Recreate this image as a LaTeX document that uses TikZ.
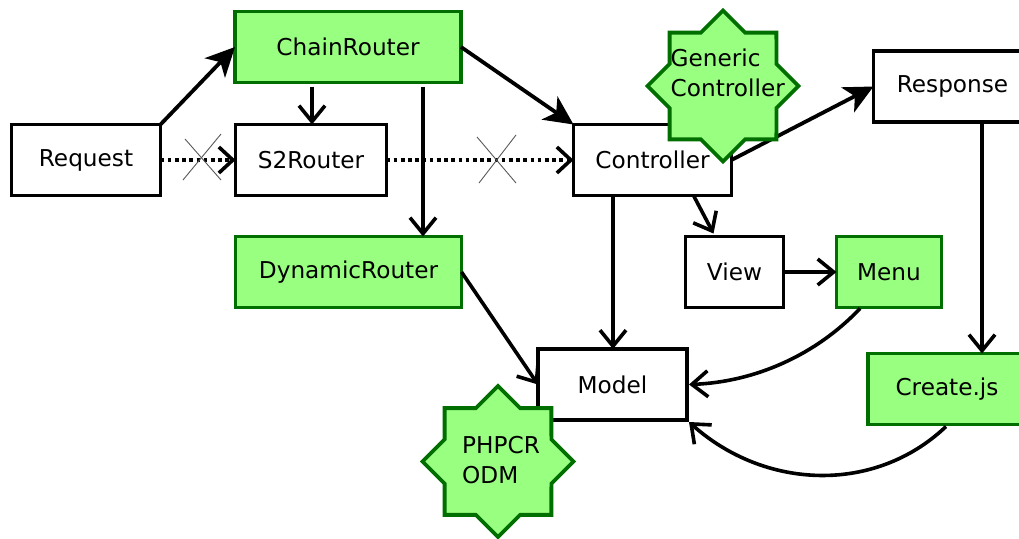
\documentclass[tikz,border=0pt]{standalone}
\usepackage{fontspec}
\setmainfont{DejaVu Sans}
\usetikzlibrary{arrows.meta,shapes.geometric}
\definecolor{gfill}{HTML}{99FF80}
\definecolor{gline}{HTML}{006F00}
\tikzset{
  x=1pt,y=-1pt,
  box/.style={draw=black,fill=white,line width=3.8pt,minimum height=71pt,inner sep=0pt,outer sep=0pt,font=\fontsize{23.2}{28}\selectfont,text=black},
  gbox/.style={box,draw=gline,fill=gfill},
  starbox/.style={star,star points=8,star point ratio=1.3066,draw=gline,fill=gfill,line width=3.8pt,minimum size=151pt,inner sep=0pt,outer sep=0pt},
  startext/.style={anchor=west,align=left,inner sep=0pt,font=\fontsize{23.2}{29.5}\selectfont},
  solidhead/.style={line width=3.8pt,-{Stealth[length=29pt,width=28pt,inset=8pt]}},
  openhead/.style={line width=3.6pt,-{Straight Barb[length=16pt,width=26pt,line width=3.6pt]}},
  dottedhead/.style={line width=3.8pt,dash pattern=on 3.6pt off 3.6pt,-{Straight Barb[length=14pt,width=26pt,line width=3.6pt]}},
  crossline/.style={draw=black!65,line width=0.9pt}
}
\begin{document}
\begin{tikzpicture}
\useasboundingbox (0,0) rectangle (1019,538);
\clip (0,0) rectangle (1019,538);
\node[box,minimum width=149pt] (req) at (86,160) {Request};
\node[gbox,minimum width=226pt] (chain) at (348,47) {ChainRouter};
\node[box,minimum width=151pt] (s2) at (311,160) {S2Router};
\node[gbox,minimum width=226pt] (dyn) at (348.5,272) {DynamicRouter};
\node[box,minimum width=158pt] (ctrl) at (652.5,160) {Controller};
\node[box,minimum width=98pt] (view) at (734.5,272) {View};
\node[gbox,minimum width=105pt] (menu) at (889,272) {Menu};
\node[box,minimum width=158pt] (resp) at (952.5,86.5) {Response};
\node[box,minimum width=149pt] (model) at (612.5,384.5) {Model};
\node[gbox,minimum width=158pt] (create) at (947,389) {Create.js};
\draw[solidhead] (req.north east) -- (chain.west);
\draw[solidhead] (chain.east) -- (ctrl.north west);
\draw[solidhead] (ctrl.east) -- (resp.west);
\draw[openhead] ([xshift=-36pt,yshift=-4pt]chain.south) -- ([xshift=1pt]s2.north);
\draw[openhead] ([xshift=75pt,yshift=-4pt]chain.south) -- ([xshift=74.5pt]dyn.north);
\draw[dottedhead] (req.east) -- (s2.west);
\draw[dottedhead] (s2.east) -- (ctrl.west);
\draw[openhead] ([xshift=-39.5pt]ctrl.south) -- ([xshift=0.5pt]model.north);
\draw[openhead] ([xshift=41pt]ctrl.south) -- ([xshift=-21pt,yshift=3pt]view.north);
\draw[openhead] (view.east) -- (menu.west);
\draw[openhead] (dyn.east) -- (model.west);
\draw[openhead] ([xshift=-29pt,yshift=-1pt]menu.south) .. controls (816,355) and (755,382) .. ([xshift=2pt]model.east);
\draw[openhead] ([xshift=29.5pt]resp.south) -- ([xshift=35pt]create.north);
\draw[openhead] ([xshift=-1pt,yshift=-2pt]create.south) .. controls (875,494) and (765,490) .. ([xshift=2pt,yshift=-2pt]model.south east);
\coordinate (xa1) at (185,139); \coordinate (xa2) at (221,180);
\coordinate (xb1) at (183,180); \coordinate (xb2) at (221,134);
\coordinate (xc1) at (477,137); \coordinate (xc2) at (516,183);
\coordinate (xd1) at (479,183); \coordinate (xd2) at (516,135);
\draw[crossline] (xa1) -- (xa2);
\draw[crossline] (xb1) -- (xb2);
\draw[crossline] (xc1) -- (xc2);
\draw[crossline] (xd1) -- (xd2);
\node[starbox] (gstar) at (723,86) {};
\node[startext] (gtext) at (670.5,73) {Generic\\Controller};
\node[starbox] (pstar) at (498,461.5) {};
\node[startext] (ptext) at (462,460) {PHPCR\\ODM};
\end{tikzpicture}
\end{document}
